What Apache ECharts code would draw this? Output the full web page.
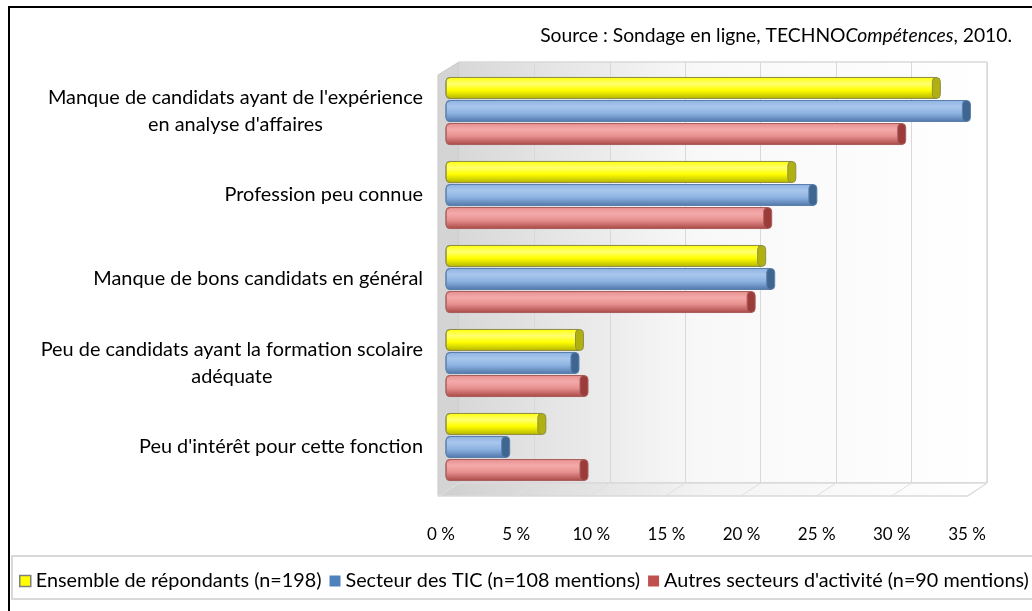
<!DOCTYPE html>
<html>
<head>
<meta charset="utf-8">
<script src="https://cdn.jsdelivr.net/npm/echarts@6/dist/echarts.min.js"></script>
<style>
  html, body { margin: 0; padding: 0; background: #fff; }
  #chart { width: 1032px; height: 611px; }
</style>
</head>
<body>
<div id="chart"></div>
<script>
// catégories (de haut en bas)
const categories = [
  "Manque de candidats ayant de l'expérience\nen analyse d'affaires",
  "Profession peu connue",
  "Manque de bons candidats en général",
  "Peu de candidats ayant la formation scolaire\nadéquate",
  "Peu d'intérêt pour cette fonction",
];
const seriesNames = [
  "Ensemble de répondants (n=198)",
  "Secteur des TIC (n=108 mentions)",
  "Autres secteurs d'activité (n=90 mentions)",
];
// valeurs en %
const ensemble = [32.3, 22.7, 20.7, 8.6, 6.1];
const secteurTIC = [34.3, 24.1, 21.3, 8.3, 3.7];
const autresSecteurs = [30.0, 21.1, 20.0, 8.9, 8.9];
const xTicks = [0, 5, 10, 15, 20, 25, 30, 35];

const FONT = "Lato";
const chart = echarts.init(document.getElementById("chart"));

// couleurs des cylindres
const palettes = [
  { top: "#ffff70", mid: "#ffff00", bot: "#b3b300", border: "#8f8f4a", cap: "#b0b010", legend: "#ffff00" },
  { top: "#a9c6ec", mid: "#8db3e2", bot: "#4f76a8", border: "#5b7fad", cap: "#3f6591", legend: "#4f81bd" },
  { top: "#f3aaa9", mid: "#e6908f", bot: "#a84644", border: "#a8605f", cap: "#9b3c3a", legend: "#c0504d" },
];

const cylinder = (slot, pal) => (params, api) => {
  const cat = api.value(0);
  const val = api.value(1);
  const p0 = api.coord([0, cat]);
  const p1 = api.coord([val, cat]);
  const band = api.size([0, 1])[1];
  const h = band * 0.25;
  const cy = p0[1] + (slot - 1) * band * 0.274;
  const y = cy - h / 2;
  const rx = 4;
  const grad = new echarts.graphic.LinearGradient(0, 0, 0, 1, [
    { offset: 0, color: pal.mid },
    { offset: 0.3, color: pal.top },
    { offset: 0.6, color: pal.mid },
    { offset: 1, color: pal.bot },
  ]);
  return {
    type: "group",
    children: [
      {
        type: "rect",
        shape: { x: p0[0] - rx, y: y, width: p1[0] - p0[0] + rx, height: h, r: [rx, 0, 0, rx] },
        style: { fill: grad, stroke: pal.border, lineWidth: 1 },
      },
      {
        type: "rect",
        shape: { x: p1[0] - rx, y: y, width: rx * 2, height: h, r: rx },
        style: { fill: pal.cap, stroke: pal.border, lineWidth: 1 },
      },
    ],
  };
};

const toData = (arr) => arr.map((v, i) => [i, v]);
const allValues = [ensemble, secteurTIC, autresSecteurs];

// mur du fond, côté gauche, plancher
const wallGrad = new echarts.graphic.LinearGradient(0, 0, 1, 0, [
  { offset: 0, color: "#d8d8d8" },
  { offset: 0.45, color: "#f8f8f8" },
  { offset: 1, color: "#ffffff" },
]);
const floorGrad = new echarts.graphic.LinearGradient(0, 0, 1, 0, [
  { offset: 0, color: "#cfcfcf" },
  { offset: 0.5, color: "#f4f4f4" },
  { offset: 1, color: "#ffffff" },
]);

const graphics = [
  { id: "wall", type: "rect", z: -10, shape: { x: 459, y: 62, width: 528, height: 421 },
    style: { fill: wallGrad, stroke: "#d9d9d9", lineWidth: 1 } },
  { id: "side", type: "polygon", z: -10, shape: { points: [[438, 75], [459, 62], [459, 483], [438, 496]] },
    style: { fill: "#d4d4d4", stroke: "#c8c8c8", lineWidth: 1 } },
  { id: "floor", type: "polygon", z: -10, shape: { points: [[459, 483], [987, 483], [968, 496], [438, 496]] },
    style: { fill: floorGrad, stroke: "#d9d9d9", lineWidth: 1 } },
  { id: "frame", type: "rect", z: 100, shape: { x: 9, y: 7, width: 1100, height: 700 },
    style: { fill: "none", stroke: "#000", lineWidth: 2 } },
  { id: "legendBox", type: "rect", z: 0, shape: { x: 12, y: 556, width: 1100, height: 43 },
    style: { fill: "none", stroke: "#d9d9d9", lineWidth: 2 } },
];

chart.setOption({
  animation: false,
  backgroundColor: "#fff",
  title: {
    text: "{a|Source : Sondage en ligne, TECHNO}{b|Compétences}{a|, 2010.}",
    right: 15,
    top: 21,
    textStyle: {
      fontWeight: "normal",
      rich: {
        a: { fontFamily: FONT, fontSize: 19.3, fontWeight: "normal", color: "#000" },
        b: { fontFamily: FONT, fontSize: 19.3, fontWeight: "normal", color: "#000", fontStyle: "italic" },
      },
    },
  },
  legend: {
    left: 19,
    top: 570,
    padding: 0,
    itemGap: 8,
    itemWidth: 11,
    itemHeight: 11,
    textStyle: { fontFamily: FONT, fontSize: 19.8, color: "#000", lineHeight: 22 },
    data: seriesNames.map((name, i) => ({
      name,
      icon: "rect",
      itemStyle: { color: palettes[i].legend, borderColor: i === 0 ? "#7f7f7f" : palettes[i].legend, borderWidth: i === 0 ? 1.5 : 0 },
    })),
  },
  graphic: graphics,
  grid: [
    { left: 459, width: 528, top: 62, height: 421 },
    { left: 450, width: 527, top: 69, height: 420 },
    { left: 441, width: 526, top: 69, height: 420 },
  ],
  xAxis: [
    { gridIndex: 0, type: "value", min: 0, max: 35, interval: 5,
      axisLine: { show: false }, axisTick: { show: false }, axisLabel: { show: false },
      splitLine: { show: true, lineStyle: { color: "#d9d9d9", width: 1 } } },
    { gridIndex: 1, type: "value", min: 0, max: 35, interval: 5,
      axisLine: { show: false }, axisTick: { show: false }, axisLabel: { show: false },
      splitLine: { show: false } },
    { gridIndex: 2, type: "value", min: 0, max: 35, interval: 5,
      axisLine: { show: false }, axisTick: { show: false }, splitLine: { show: false },
      axisLabel: { margin: 37, fontFamily: FONT, fontSize: 17, color: "#000", formatter: "{value} %" } },
  ],
  yAxis: [
    { gridIndex: 0, type: "category", inverse: true, data: categories, show: false },
    { gridIndex: 1, type: "category", inverse: true, data: categories,
      axisLine: { show: false }, axisTick: { show: false }, splitLine: { show: false },
      axisLabel: {
        margin: 27,
        formatter: (v) => "{c|" + v + "}",
        rich: { c: { fontFamily: FONT, fontSize: 19.9, color: "#000", lineHeight: 27, align: "center" } },
      } },
    { gridIndex: 2, type: "category", inverse: true, data: categories, show: false },
  ],
  series: allValues.map((arr, i) => ({
    name: seriesNames[i],
    type: "custom",
    xAxisIndex: 1,
    yAxisIndex: 1,
    itemStyle: { color: palettes[i].legend },
    encode: { x: 1, y: 0 },
    renderItem: cylinder(i, palettes[i]),
    data: toData(arr),
  })),
});

// lignes obliques du plancher, calées sur l'axe du fond
const floorLines = xTicks.map((t) => {
  const x = chart.convertToPixel({ xAxisIndex: 0 }, t);
  return { id: "fl" + t, type: "line", z: -9, shape: { x1: x, y1: 483, x2: x - 20, y2: 496 },
    style: { stroke: "#e0e0e0", lineWidth: 1 } };
});
chart.setOption({ graphic: graphics.concat(floorLines) });
</script>
</body>
</html>
